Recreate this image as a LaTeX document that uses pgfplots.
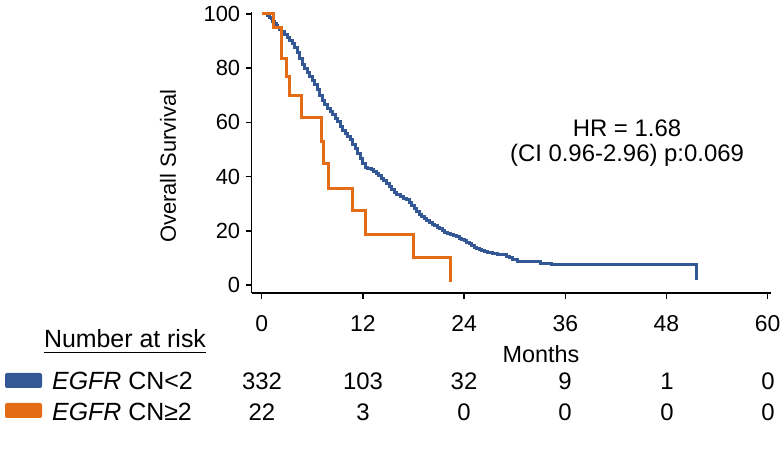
\documentclass[border=0pt]{standalone}
\usepackage{pgfplots}
\pgfplotsset{compat=1.18}
\usepackage{fontspec}
\setmainfont{Liberation Sans}
\definecolor{kmblue}{RGB}{52,88,150}
\definecolor{kmorange}{RGB}{228,108,20}
\begin{document}
\begin{tikzpicture}
\path[use as bounding box] (0,0) rectangle (784bp,453bp);
\begin{axis}[
  at={(251.7bp,160bp)}, anchor=south west,
  scale only axis, width=519.3bp, height=281bp,
  xmin=-1.19, xmax=60.4, ymin=-2.95, ymax=100.7,
  axis lines=left,
  axis line style={-, line width=1.5bp, black},
  tick align=outside, major tick length=6bp,
  tick style={line width=1.5bp, black},
  xtick={0,12,24,36,48,60}, ytick={0,20,40,60,80,100},
  /pgf/number format/assume math mode=true,
  xticklabel style={font=\fontsize{23}{26}\selectfont, yshift=-13bp},
  yticklabel style={font=\fontsize{22}{26}\selectfont, xshift=-2bp},
  clip=false,
]
\addplot[const plot, kmblue, line width=3bp] coordinates {
(0,100) (0.5,100) (0.7,99.4) (0.9,98.8) (1.1,98.2) (1.3,97.3) (1.5,96.4) (1.7,95.6)
(1.9,94.9) (2.1,94.3) (2.4,93.5) (2.7,92.4) (3.0,91.3) (3.3,90.2) (3.6,89) (3.9,87.5)
(4.2,85.6) (4.5,83.6) (4.8,81.5) (5.1,79.8) (5.4,78.3) (5.7,76.9) (6.0,75.4) (6.3,73.8)
(6.6,72) (6.9,70) (7.2,68) (7.5,66.6) (7.8,65.1) (8.1,64) (8.4,62.8) (8.7,61.5)
(9.0,60.2) (9.3,58.5) (9.6,57) (9.9,55.8) (10.2,54.8) (10.5,53.5) (10.8,52) (11.1,50.4)
(11.4,48.6) (11.7,46.6) (12.0,44.8) (12.3,43.5) (12.6,42.9) (13.0,42.6) (13.3,42)
(13.6,41.2) (13.9,40.3) (14.2,39.4) (14.5,38.5) (14.8,37.5) (15.1,36.5) (15.4,35.4)
(15.7,34.3) (16.0,33.3) (16.4,32.6) (16.8,32) (17.2,31.4) (17.5,30.3) (17.8,29.2)
(18.1,28.1) (18.4,27.1) (18.7,26.1) (19.0,25.2) (19.3,24.4) (19.6,23.7) (19.9,23.1)
(20.2,22.5) (20.5,21.9) (20.8,21.3) (21.1,20.7) (21.4,20) (21.7,19.4) (22.0,19)
(22.4,18.7) (22.8,18.3) (23.1,17.8) (23.4,17.3) (23.7,16.9) (24.0,16.4) (24.3,15.8)
(24.6,15.2) (24.9,14.5) (25.2,13.9) (25.5,13.4) (25.8,13) (26.1,12.6) (26.4,12.2)
(26.8,11.9) (27.4,11.7) (28.0,11.4) (28.6,11.1) (29.0,10.6) (29.4,10.1) (29.8,9.3)
(30.3,8.6) (33.1,8.0) (34.4,7.4) (51.6,7.4) (51.6,1.8)
};
\addplot[const plot, kmorange, line width=3bp] coordinates {
(0,100) (1.4,95) (2.4,83.6) (2.9,77) (3.3,70) (4.7,61.9) (7.1,52.9) (7.3,44.9)
(7.9,35.7) (10.8,27.4) (12.3,18.5) (18.0,10.1) (22.4,1.2)
};
\end{axis}
% axis labels and annotations
\node[rotate=90, font=\fontsize{22}{26}\selectfont] at (168bp,287bp) {Overall Survival};
\node[anchor=base, font=\fontsize{23.5}{27}\selectfont] at (541bp,90bp) {Months};
\node[anchor=base, font=\fontsize{24}{28}\selectfont] at (627bp,316bp) {HR = 1.68};
\node[anchor=base, font=\fontsize{24}{28}\selectfont] at (627bp,291bp) {(CI 0.96-2.96) p:0.069};
% number at risk table
\node[anchor=base, font=\fontsize{25}{29}\selectfont] (nar) at (125bp,105bp) {Number at risk};
\draw[line width=1.6bp] ([xshift=3bp]nar.base west) ++(0,-4.5bp) -- ([xshift=-3bp,yshift=-4.5bp]nar.base east);
\fill[kmblue, rounded corners=2bp] (5bp,65bp) rectangle (42bp,80bp);
\fill[kmorange, rounded corners=2bp] (5bp,35bp) rectangle (42bp,50bp);
\node[anchor=base west, font=\fontsize{25}{29}\selectfont, inner sep=0pt] at (52bp,63bp) {\textit{EGFR} CN<2};
\node[anchor=base west, font=\fontsize{25}{29}\selectfont, inner sep=0pt] at (52bp,33bp) {\textit{EGFR} CN≥2};
\foreach \x/\a/\b in {262/332/22, 363/103/3, 464/32/0, 565/9/0, 667/1/0, 768/0/0} {
  \node[anchor=base, font=\fontsize{24}{28}\selectfont] at (\x bp,63bp) {\a};
  \node[anchor=base, font=\fontsize{24}{28}\selectfont] at (\x bp,33bp) {\b};
}
\end{tikzpicture}
\end{document}
